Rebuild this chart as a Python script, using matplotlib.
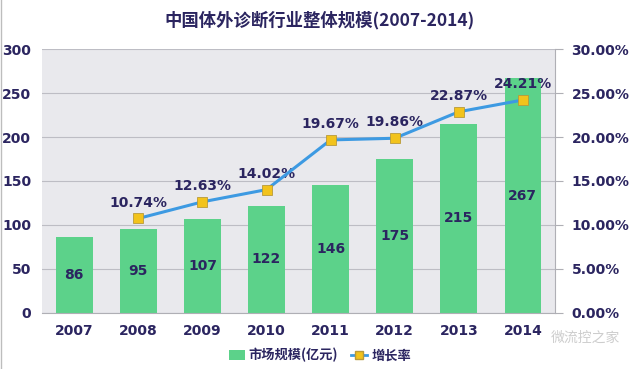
import numpy as np
import matplotlib.pyplot as plt
from matplotlib.lines import Line2D
from matplotlib.patches import Patch

plt.rcParams['font.family'] = ['DejaVu Sans', 'Noto Sans CJK SC']

years = ['2007', '2008', '2009', '2010', '2011', '2012', '2013', '2014']
market = [86, 95, 107, 122, 146, 175, 215, 267]
growth_years = ['2008', '2009', '2010', '2011', '2012', '2013', '2014']
growth = [10.74, 12.63, 14.02, 19.67, 19.86, 22.87, 24.21]

navy = '#2B2560'
green = '#5CD28A'
blue = '#3D9AE2'
yellow = '#F2C31C'

fig = plt.figure(figsize=(6.4, 3.69), dpi=100)
ax = fig.add_axes([0.066, 0.152, 0.801, 0.715])
ax.set_facecolor('#E9E9ED')

x = np.arange(len(years))
bars = ax.bar(x, market, width=0.57, color=green, zorder=2)
for xi, v in zip(x, market):
    ax.text(xi, v / 2, str(v), ha='center', va='center', fontsize=10,
            fontweight='bold', color=navy, zorder=5)

ax.set_ylim(0, 300)
ax.set_yticks(range(0, 301, 50))
ax.set_xlim(-0.5, len(years) - 0.5)
ax.set_xticks(x)
ax.set_xticklabels(years)
ax.grid(axis='y', color='#BDBDC4', linewidth=0.8, zorder=0)
ax.set_axisbelow(True)
for s in ['top', 'right', 'left']:
    ax.spines[s].set_visible(False)
ax.spines['bottom'].set_color('#AFAFB5')
ax.tick_params(axis='both', length=0, labelsize=10, labelcolor=navy, pad=8)
for lab in ax.get_xticklabels() + ax.get_yticklabels():
    lab.set_fontweight('bold')

ax2 = ax.twinx()
gx = [years.index(y) for y in growth_years]
ax2.plot(gx, growth, color=blue, linewidth=2.2, marker='s', markersize=7,
         markerfacecolor=yellow, markeredgecolor='#B89A3A', markeredgewidth=0.6, zorder=4)
for xi, g in zip(gx, growth):
    ax2.text(xi, g + 1.0, f'{g:.2f}%', ha='center', va='bottom', fontsize=10,
             fontweight='bold', color=navy)
ax2.set_ylim(0, 30)
ax2.set_yticks(range(0, 31, 5))
ax2.set_yticklabels([f'{v:.2f}%' for v in range(0, 31, 5)])
for s in ['top', 'left', 'bottom']:
    ax2.spines[s].set_visible(False)
ax2.spines['right'].set_color('#AFAFB5')
ax2.tick_params(axis='y', length=6, color='#AFAFB5', labelsize=10, labelcolor=navy, pad=6)
for lab in ax2.get_yticklabels():
    lab.set_fontweight('bold')

fig.text(0.5, 0.945, '中国体外诊断行业整体规模(2007-2014)', ha='center', va='center',
         fontsize=12.5, fontweight='bold', color=navy,
         family=['Noto Sans CJK SC', 'DejaVu Sans'])

handles = [Patch(facecolor=green, label='市场规模(亿元)'),
           Line2D([0], [0], color=blue, linewidth=2, marker='s', markersize=6,
                  markerfacecolor=yellow, markeredgecolor='#B89A3A', label='增长率')]
fig.legend(handles=handles, loc='center', bbox_to_anchor=(0.5, 0.037), ncol=2,
           frameon=False, handlelength=1.2, handleheight=0.9, columnspacing=1.0,
           handletextpad=0.3,
           prop={'family': ['Noto Sans CJK SC', 'DejaVu Sans'], 'size': 9.5, 'weight': 'bold'},
           labelcolor=navy)

fig.text(0.86, 0.085, '微流控之家', ha='left', va='center', fontsize=10, color='#C8C8C8',
         family=['Noto Sans CJK SC'], alpha=0.9)

fig.add_artist(Line2D([0.002, 0.002], [0, 1], color='#BDBDBD', linewidth=1))

fig.savefig('out.png', dpi=100)
